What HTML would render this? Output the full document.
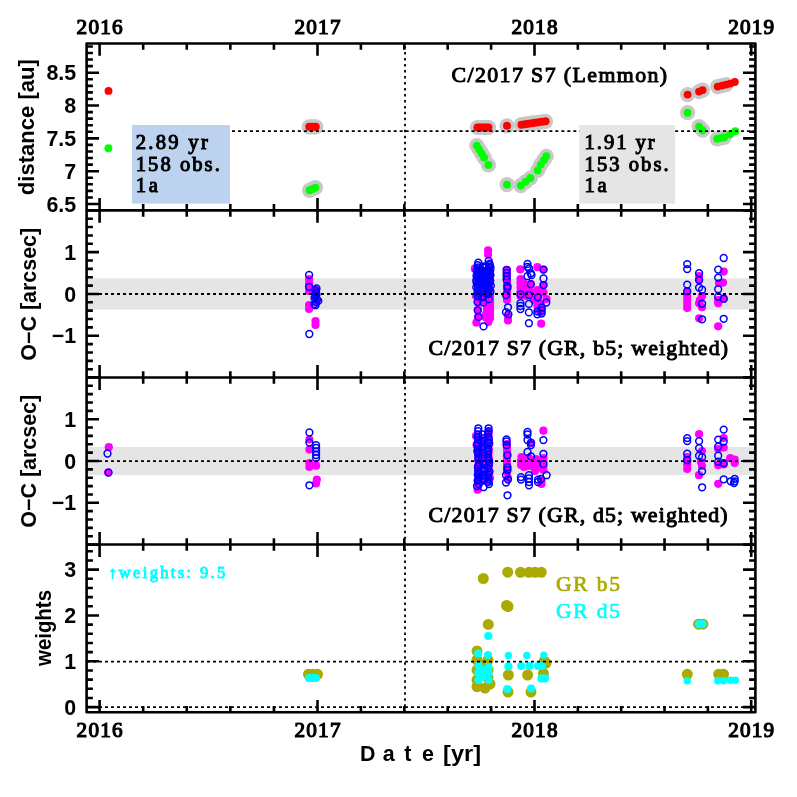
<!DOCTYPE html>
<html><head><meta charset="utf-8"><style>
html,body{margin:0;padding:0;background:#fff;}
svg{display:block;will-change:transform;}
text{paint-order:stroke;}
</style></head><body>
<svg width="797" height="797" viewBox="0 0 797 797">
<rect width="797" height="797" fill="#fff"/>
<rect x="86.6" y="278.3" width="668.8" height="31.3" fill="#e5e5e5"/>
<rect x="86.6" y="447.0" width="668.8" height="28.1" fill="#e5e5e5"/>
<g fill="#c8c8c8"><circle cx="309.2" cy="126.8" r="7.6"/><circle cx="311.4" cy="126.8" r="7.6"/><circle cx="313.6" cy="126.8" r="7.6"/><circle cx="315.8" cy="126.8" r="7.6"/><circle cx="477.4" cy="127.5" r="7.6"/><circle cx="479.6" cy="127.5" r="7.6"/><circle cx="481.8" cy="127.5" r="7.6"/><circle cx="484.1" cy="127.5" r="7.6"/><circle cx="486.3" cy="127.5" r="7.6"/><circle cx="488.5" cy="127.5" r="7.6"/><circle cx="507.0" cy="125.8" r="7.6"/><circle cx="521.4" cy="124.7" r="7.6"/><circle cx="524.9" cy="124.2" r="7.6"/><circle cx="528.3" cy="123.7" r="7.6"/><circle cx="531.8" cy="123.2" r="7.6"/><circle cx="535.2" cy="122.8" r="7.6"/><circle cx="538.7" cy="122.3" r="7.6"/><circle cx="542.1" cy="121.8" r="7.6"/><circle cx="545.6" cy="121.3" r="7.6"/><circle cx="687.6" cy="94.6" r="7.6"/><circle cx="699.1" cy="91.6" r="7.6"/><circle cx="702.6" cy="90.1" r="7.6"/><circle cx="717.7" cy="86.6" r="7.6"/><circle cx="722.0" cy="85.6" r="7.6"/><circle cx="726.2" cy="84.6" r="7.6"/><circle cx="309.5" cy="190.3" r="7.6"/><circle cx="312.5" cy="188.9" r="7.6"/><circle cx="315.5" cy="187.6" r="7.6"/><circle cx="476.8" cy="145.6" r="7.6"/><circle cx="479.2" cy="149.6" r="7.6"/><circle cx="481.7" cy="153.6" r="7.6"/><circle cx="484.1" cy="157.6" r="7.6"/><circle cx="488.4" cy="164.9" r="7.6"/><circle cx="507.0" cy="184.6" r="7.6"/><circle cx="520.8" cy="185.6" r="7.6"/><circle cx="525.6" cy="181.8" r="7.6"/><circle cx="530.4" cy="178.0" r="7.6"/><circle cx="537.7" cy="170.4" r="7.6"/><circle cx="540.8" cy="164.6" r="7.6"/><circle cx="543.9" cy="160.1" r="7.6"/><circle cx="546.3" cy="156.3" r="7.6"/><circle cx="687.6" cy="112.7" r="7.6"/><circle cx="699.1" cy="126.7" r="7.6"/><circle cx="702.6" cy="130.2" r="7.6"/><circle cx="717.2" cy="138.8" r="7.6"/><circle cx="720.7" cy="138.1" r="7.6"/><circle cx="724.2" cy="137.3" r="7.6"/></g>
<g fill="#ff0000"><circle cx="309.2" cy="126.8" r="3.95"/><circle cx="311.4" cy="126.8" r="3.95"/><circle cx="313.6" cy="126.8" r="3.95"/><circle cx="315.8" cy="126.8" r="3.95"/><circle cx="477.4" cy="127.5" r="3.95"/><circle cx="479.6" cy="127.5" r="3.95"/><circle cx="481.8" cy="127.5" r="3.95"/><circle cx="484.1" cy="127.5" r="3.95"/><circle cx="486.3" cy="127.5" r="3.95"/><circle cx="488.5" cy="127.5" r="3.95"/><circle cx="507.0" cy="125.8" r="3.95"/><circle cx="521.4" cy="124.7" r="3.95"/><circle cx="524.9" cy="124.2" r="3.95"/><circle cx="528.3" cy="123.7" r="3.95"/><circle cx="531.8" cy="123.2" r="3.95"/><circle cx="535.2" cy="122.8" r="3.95"/><circle cx="538.7" cy="122.3" r="3.95"/><circle cx="542.1" cy="121.8" r="3.95"/><circle cx="545.6" cy="121.3" r="3.95"/><circle cx="687.6" cy="94.6" r="3.95"/><circle cx="699.1" cy="91.6" r="3.95"/><circle cx="702.6" cy="90.1" r="3.95"/><circle cx="717.7" cy="86.6" r="3.95"/><circle cx="722.0" cy="85.6" r="3.95"/><circle cx="726.2" cy="84.6" r="3.95"/><circle cx="108.5" cy="90.9" r="3.95"/><circle cx="730.2" cy="83.6" r="3.95"/><circle cx="734.8" cy="82.0" r="3.95"/></g>
<g fill="#00ff00"><circle cx="309.5" cy="190.3" r="3.95"/><circle cx="312.5" cy="188.9" r="3.95"/><circle cx="315.5" cy="187.6" r="3.95"/><circle cx="476.8" cy="145.6" r="3.95"/><circle cx="479.2" cy="149.6" r="3.95"/><circle cx="481.7" cy="153.6" r="3.95"/><circle cx="484.1" cy="157.6" r="3.95"/><circle cx="488.4" cy="164.9" r="3.95"/><circle cx="507.0" cy="184.6" r="3.95"/><circle cx="520.8" cy="185.6" r="3.95"/><circle cx="525.6" cy="181.8" r="3.95"/><circle cx="530.4" cy="178.0" r="3.95"/><circle cx="537.7" cy="170.4" r="3.95"/><circle cx="540.8" cy="164.6" r="3.95"/><circle cx="543.9" cy="160.1" r="3.95"/><circle cx="546.3" cy="156.3" r="3.95"/><circle cx="687.6" cy="112.7" r="3.95"/><circle cx="699.1" cy="126.7" r="3.95"/><circle cx="702.6" cy="130.2" r="3.95"/><circle cx="717.2" cy="138.8" r="3.95"/><circle cx="720.7" cy="138.1" r="3.95"/><circle cx="724.2" cy="137.3" r="3.95"/><circle cx="108.4" cy="148.3" r="3.95"/><circle cx="730.2" cy="134.3" r="3.95"/><circle cx="735.3" cy="131.2" r="3.95"/></g>
<g fill="#ff00ff"><circle cx="309.1" cy="279.0" r="4.1"/><circle cx="309.1" cy="283.0" r="4.1"/><circle cx="309.1" cy="287.0" r="4.1"/><circle cx="309.1" cy="291.0" r="4.1"/><circle cx="316.0" cy="290.0" r="4.1"/><circle cx="316.0" cy="297.0" r="4.1"/><circle cx="316.5" cy="302.0" r="4.1"/><circle cx="309.1" cy="305.0" r="4.1"/><circle cx="309.1" cy="309.0" r="4.1"/><circle cx="315.5" cy="321.0" r="4.1"/><circle cx="315.5" cy="325.0" r="4.1"/><circle cx="490.0" cy="296.0" r="4.1"/><circle cx="490.0" cy="299.1" r="4.1"/><circle cx="490.0" cy="302.3" r="4.1"/><circle cx="490.0" cy="305.4" r="4.1"/><circle cx="490.0" cy="308.6" r="4.1"/><circle cx="490.0" cy="311.7" r="4.1"/><circle cx="490.0" cy="314.9" r="4.1"/><circle cx="490.0" cy="318.0" r="4.1"/><circle cx="487.0" cy="300.0" r="4.1"/><circle cx="487.0" cy="303.2" r="4.1"/><circle cx="487.0" cy="306.4" r="4.1"/><circle cx="487.0" cy="309.6" r="4.1"/><circle cx="487.0" cy="312.8" r="4.1"/><circle cx="487.0" cy="316.0" r="4.1"/><circle cx="478.3" cy="270.0" r="4.1"/><circle cx="478.3" cy="275.0" r="4.1"/><circle cx="478.3" cy="280.0" r="4.1"/><circle cx="478.3" cy="285.0" r="4.1"/><circle cx="478.3" cy="290.0" r="4.1"/><circle cx="478.3" cy="295.0" r="4.1"/><circle cx="478.3" cy="300.0" r="4.1"/><circle cx="488.7" cy="268.0" r="4.1"/><circle cx="488.7" cy="273.0" r="4.1"/><circle cx="488.7" cy="278.0" r="4.1"/><circle cx="488.7" cy="283.0" r="4.1"/><circle cx="488.7" cy="288.0" r="4.1"/><circle cx="488.7" cy="293.0" r="4.1"/><circle cx="488.7" cy="298.0" r="4.1"/><circle cx="488.1" cy="250.4" r="4.1"/><circle cx="488.1" cy="254.6" r="4.1"/><circle cx="474.8" cy="268.7" r="4.1"/><circle cx="489.5" cy="304.0" r="4.1"/><circle cx="489.5" cy="308.0" r="4.1"/><circle cx="489.5" cy="312.0" r="4.1"/><circle cx="486.0" cy="314.0" r="4.1"/><circle cx="485.0" cy="317.0" r="4.1"/><circle cx="476.4" cy="322.7" r="4.1"/><circle cx="488.3" cy="322.1" r="4.1"/><circle cx="478.0" cy="302.0" r="4.1"/><circle cx="478.0" cy="310.0" r="4.1"/><circle cx="478.0" cy="317.0" r="4.1"/><circle cx="484.0" cy="302.0" r="4.1"/><circle cx="476.0" cy="296.0" r="4.1"/><circle cx="484.0" cy="296.0" r="4.1"/><circle cx="507.0" cy="270.0" r="4.1"/><circle cx="507.0" cy="273.8" r="4.1"/><circle cx="507.0" cy="277.5" r="4.1"/><circle cx="507.0" cy="281.2" r="4.1"/><circle cx="507.0" cy="285.0" r="4.1"/><circle cx="507.0" cy="288.8" r="4.1"/><circle cx="507.0" cy="292.5" r="4.1"/><circle cx="507.0" cy="296.2" r="4.1"/><circle cx="507.0" cy="300.0" r="4.1"/><circle cx="508.0" cy="320.4" r="4.1"/><circle cx="508.0" cy="316.0" r="4.1"/><circle cx="520.3" cy="269.4" r="4.1"/><circle cx="520.5" cy="279.0" r="4.1"/><circle cx="520.5" cy="283.2" r="4.1"/><circle cx="520.5" cy="287.5" r="4.1"/><circle cx="520.5" cy="291.8" r="4.1"/><circle cx="520.5" cy="296.0" r="4.1"/><circle cx="523.0" cy="282.0" r="4.1"/><circle cx="523.0" cy="290.0" r="4.1"/><circle cx="530.8" cy="284.2" r="4.1"/><circle cx="528.9" cy="295.0" r="4.1"/><circle cx="526.0" cy="288.0" r="4.1"/><circle cx="531.0" cy="292.0" r="4.1"/><circle cx="526.0" cy="296.0" r="4.1"/><circle cx="533.0" cy="298.0" r="4.1"/><circle cx="537.4" cy="267.2" r="4.1"/><circle cx="537.5" cy="290.0" r="4.1"/><circle cx="537.5" cy="294.0" r="4.1"/><circle cx="537.5" cy="298.0" r="4.1"/><circle cx="537.5" cy="302.0" r="4.1"/><circle cx="537.5" cy="306.0" r="4.1"/><circle cx="538.0" cy="310.0" r="4.1"/><circle cx="541.2" cy="323.7" r="4.1"/><circle cx="534.0" cy="300.0" r="4.1"/><circle cx="543.5" cy="269.6" r="4.1"/><circle cx="543.5" cy="285.1" r="4.1"/><circle cx="543.5" cy="292.6" r="4.1"/><circle cx="546.5" cy="299.0" r="4.1"/><circle cx="541.6" cy="308.0" r="4.1"/><circle cx="541.6" cy="312.0" r="4.1"/><circle cx="541.0" cy="304.0" r="4.1"/><circle cx="687.2" cy="292.0" r="4.1"/><circle cx="687.2" cy="296.0" r="4.1"/><circle cx="687.2" cy="300.0" r="4.1"/><circle cx="687.2" cy="304.0" r="4.1"/><circle cx="687.2" cy="308.0" r="4.1"/><circle cx="699.1" cy="276.1" r="4.1"/><circle cx="699.1" cy="280.0" r="4.1"/><circle cx="702.0" cy="296.2" r="4.1"/><circle cx="699.1" cy="303.2" r="4.1"/><circle cx="702.0" cy="307.2" r="4.1"/><circle cx="699.1" cy="318.3" r="4.1"/><circle cx="700.0" cy="300.0" r="4.1"/><circle cx="723.7" cy="271.6" r="4.1"/><circle cx="723.0" cy="282.6" r="4.1"/><circle cx="719.0" cy="283.0" r="4.1"/><circle cx="723.7" cy="298.7" r="4.1"/><circle cx="718.2" cy="303.2" r="4.1"/><circle cx="718.2" cy="326.3" r="4.1"/><circle cx="718.2" cy="300.0" r="4.1"/><circle cx="108.8" cy="447.2" r="4.1"/><circle cx="108.2" cy="472.3" r="4.1"/><circle cx="309.4" cy="439.6" r="4.1"/><circle cx="309.4" cy="449.6" r="4.1"/><circle cx="309.4" cy="463.2" r="4.1"/><circle cx="309.4" cy="467.0" r="4.1"/><circle cx="316.1" cy="465.7" r="4.1"/><circle cx="316.8" cy="479.7" r="4.1"/><circle cx="316.0" cy="483.5" r="4.1"/><circle cx="476.0" cy="436.0" r="4.1"/><circle cx="476.5" cy="445.0" r="4.1"/><circle cx="477.6" cy="489.7" r="4.1"/><circle cx="490.0" cy="478.0" r="4.1"/><circle cx="488.6" cy="432.0" r="4.1"/><circle cx="488.6" cy="436.2" r="4.1"/><circle cx="488.6" cy="440.3" r="4.1"/><circle cx="488.6" cy="444.5" r="4.1"/><circle cx="488.6" cy="448.7" r="4.1"/><circle cx="488.6" cy="452.8" r="4.1"/><circle cx="488.6" cy="457.0" r="4.1"/><circle cx="488.6" cy="461.2" r="4.1"/><circle cx="488.6" cy="465.3" r="4.1"/><circle cx="488.6" cy="469.5" r="4.1"/><circle cx="488.6" cy="473.7" r="4.1"/><circle cx="488.6" cy="477.8" r="4.1"/><circle cx="488.6" cy="482.0" r="4.1"/><circle cx="478.3" cy="440.0" r="4.1"/><circle cx="478.3" cy="445.1" r="4.1"/><circle cx="478.3" cy="450.2" r="4.1"/><circle cx="478.3" cy="455.3" r="4.1"/><circle cx="478.3" cy="460.4" r="4.1"/><circle cx="478.3" cy="465.6" r="4.1"/><circle cx="478.3" cy="470.7" r="4.1"/><circle cx="478.3" cy="475.8" r="4.1"/><circle cx="478.3" cy="480.9" r="4.1"/><circle cx="478.3" cy="486.0" r="4.1"/><circle cx="483.5" cy="440.0" r="4.1"/><circle cx="483.5" cy="445.7" r="4.1"/><circle cx="483.5" cy="451.4" r="4.1"/><circle cx="483.5" cy="457.1" r="4.1"/><circle cx="483.5" cy="462.9" r="4.1"/><circle cx="483.5" cy="468.6" r="4.1"/><circle cx="483.5" cy="474.3" r="4.1"/><circle cx="483.5" cy="480.0" r="4.1"/><circle cx="507.0" cy="444.0" r="4.1"/><circle cx="507.0" cy="448.0" r="4.1"/><circle cx="507.0" cy="452.0" r="4.1"/><circle cx="507.0" cy="456.0" r="4.1"/><circle cx="507.0" cy="460.0" r="4.1"/><circle cx="507.0" cy="464.0" r="4.1"/><circle cx="507.0" cy="468.0" r="4.1"/><circle cx="507.0" cy="472.0" r="4.1"/><circle cx="508.0" cy="478.0" r="4.1"/><circle cx="521.5" cy="457.0" r="4.1"/><circle cx="521.0" cy="461.0" r="4.1"/><circle cx="521.0" cy="465.0" r="4.1"/><circle cx="524.0" cy="467.0" r="4.1"/><circle cx="527.0" cy="463.0" r="4.1"/><circle cx="531.0" cy="460.0" r="4.1"/><circle cx="533.0" cy="466.0" r="4.1"/><circle cx="531.1" cy="443.0" r="4.1"/><circle cx="529.0" cy="458.0" r="4.1"/><circle cx="536.0" cy="459.0" r="4.1"/><circle cx="529.0" cy="466.0" r="4.1"/><circle cx="537.0" cy="460.0" r="4.1"/><circle cx="537.0" cy="464.0" r="4.1"/><circle cx="537.0" cy="468.0" r="4.1"/><circle cx="540.0" cy="466.0" r="4.1"/><circle cx="535.0" cy="471.0" r="4.1"/><circle cx="543.4" cy="430.7" r="4.1"/><circle cx="543.4" cy="458.0" r="4.1"/><circle cx="543.4" cy="462.0" r="4.1"/><circle cx="543.4" cy="466.0" r="4.1"/><circle cx="543.4" cy="470.0" r="4.1"/><circle cx="541.5" cy="480.9" r="4.1"/><circle cx="541.5" cy="484.0" r="4.1"/><circle cx="687.2" cy="457.0" r="4.1"/><circle cx="687.2" cy="461.0" r="4.1"/><circle cx="687.2" cy="465.0" r="4.1"/><circle cx="687.2" cy="469.0" r="4.1"/><circle cx="699.1" cy="434.1" r="4.1"/><circle cx="702.0" cy="451.0" r="4.1"/><circle cx="701.0" cy="462.0" r="4.1"/><circle cx="702.0" cy="466.0" r="4.1"/><circle cx="699.0" cy="475.2" r="4.1"/><circle cx="723.7" cy="438.1" r="4.1"/><circle cx="723.7" cy="447.6" r="4.1"/><circle cx="718.2" cy="449.0" r="4.1"/><circle cx="718.2" cy="465.2" r="4.1"/><circle cx="723.7" cy="464.5" r="4.1"/><circle cx="718.2" cy="483.8" r="4.1"/><circle cx="730.2" cy="458.2" r="4.1"/><circle cx="734.7" cy="459.7" r="4.1"/><circle cx="734.7" cy="463.0" r="4.1"/></g>
<g fill="none" stroke="#0000ff" stroke-width="1.5"><circle cx="315.5" cy="290.5" r="3.4"/><circle cx="316.5" cy="294.5" r="3.4"/><circle cx="314.5" cy="298.0" r="3.4"/><circle cx="316.0" cy="302.0" r="3.4"/><circle cx="314.5" cy="304.0" r="3.4"/><circle cx="309.1" cy="274.9" r="3.4"/><circle cx="309.1" cy="286.8" r="3.4"/><circle cx="316.5" cy="288.5" r="3.4"/><circle cx="316.0" cy="292.5" r="3.4"/><circle cx="315.5" cy="296.5" r="3.4"/><circle cx="317.0" cy="299.5" r="3.4"/><circle cx="318.3" cy="300.9" r="3.4"/><circle cx="315.5" cy="305.2" r="3.4"/><circle cx="309.3" cy="334.0" r="3.4"/><circle cx="478.3" cy="262.7" r="3.4"/><circle cx="488.7" cy="261.0" r="3.4"/><circle cx="477.7" cy="265.2" r="3.4"/><circle cx="478.3" cy="267.3" r="3.4"/><circle cx="478.9" cy="270.6" r="3.4"/><circle cx="477.8" cy="272.4" r="3.4"/><circle cx="478.5" cy="274.7" r="3.4"/><circle cx="477.8" cy="277.8" r="3.4"/><circle cx="479.2" cy="280.0" r="3.4"/><circle cx="478.5" cy="282.2" r="3.4"/><circle cx="478.3" cy="284.4" r="3.4"/><circle cx="478.1" cy="287.7" r="3.4"/><circle cx="477.6" cy="291.7" r="3.4"/><circle cx="478.4" cy="293.3" r="3.4"/><circle cx="477.7" cy="295.3" r="3.4"/><circle cx="489.5" cy="263.6" r="3.4"/><circle cx="489.6" cy="265.1" r="3.4"/><circle cx="489.0" cy="267.0" r="3.4"/><circle cx="488.2" cy="270.9" r="3.4"/><circle cx="488.9" cy="272.9" r="3.4"/><circle cx="489.5" cy="275.4" r="3.4"/><circle cx="489.4" cy="276.8" r="3.4"/><circle cx="488.1" cy="279.1" r="3.4"/><circle cx="489.5" cy="281.6" r="3.4"/><circle cx="488.8" cy="284.8" r="3.4"/><circle cx="488.3" cy="287.7" r="3.4"/><circle cx="489.2" cy="289.7" r="3.4"/><circle cx="488.1" cy="292.3" r="3.4"/><circle cx="488.1" cy="294.1" r="3.4"/><circle cx="482.5" cy="266.7" r="3.4"/><circle cx="481.1" cy="269.6" r="3.4"/><circle cx="481.8" cy="271.3" r="3.4"/><circle cx="481.7" cy="273.4" r="3.4"/><circle cx="481.0" cy="275.7" r="3.4"/><circle cx="481.7" cy="279.4" r="3.4"/><circle cx="481.6" cy="281.7" r="3.4"/><circle cx="481.9" cy="285.9" r="3.4"/><circle cx="482.6" cy="288.3" r="3.4"/><circle cx="481.6" cy="291.7" r="3.4"/><circle cx="485.5" cy="266.5" r="3.4"/><circle cx="486.0" cy="267.5" r="3.4"/><circle cx="484.5" cy="271.3" r="3.4"/><circle cx="485.5" cy="273.1" r="3.4"/><circle cx="485.1" cy="276.5" r="3.4"/><circle cx="484.6" cy="279.6" r="3.4"/><circle cx="485.6" cy="283.0" r="3.4"/><circle cx="485.9" cy="284.6" r="3.4"/><circle cx="485.7" cy="287.9" r="3.4"/><circle cx="484.9" cy="290.7" r="3.4"/><circle cx="485.8" cy="293.7" r="3.4"/><circle cx="476.7" cy="270.7" r="3.4"/><circle cx="476.5" cy="275.7" r="3.4"/><circle cx="476.3" cy="280.3" r="3.4"/><circle cx="476.6" cy="282.6" r="3.4"/><circle cx="476.3" cy="287.3" r="3.4"/><circle cx="490.5" cy="267.5" r="3.4"/><circle cx="490.3" cy="270.3" r="3.4"/><circle cx="490.5" cy="275.2" r="3.4"/><circle cx="490.2" cy="280.7" r="3.4"/><circle cx="490.8" cy="285.8" r="3.4"/><circle cx="490.5" cy="291.8" r="3.4"/><circle cx="477.5" cy="302.1" r="3.4"/><circle cx="483.3" cy="302.6" r="3.4"/><circle cx="488.8" cy="299.0" r="3.4"/><circle cx="477.7" cy="310.3" r="3.4"/><circle cx="478.5" cy="316.9" r="3.4"/><circle cx="483.5" cy="326.4" r="3.4"/><circle cx="478.0" cy="296.3" r="3.4"/><circle cx="483.0" cy="297.0" r="3.4"/><circle cx="506.6" cy="269.8" r="3.4"/><circle cx="506.6" cy="273.0" r="3.4"/><circle cx="506.6" cy="276.3" r="3.4"/><circle cx="506.6" cy="279.6" r="3.4"/><circle cx="507.5" cy="286.1" r="3.4"/><circle cx="507.5" cy="288.1" r="3.4"/><circle cx="506.0" cy="295.1" r="3.4"/><circle cx="508.0" cy="307.3" r="3.4"/><circle cx="506.0" cy="312.2" r="3.4"/><circle cx="508.4" cy="314.2" r="3.4"/><circle cx="520.5" cy="294.3" r="3.4"/><circle cx="520.5" cy="303.2" r="3.4"/><circle cx="520.5" cy="306.0" r="3.4"/><circle cx="520.5" cy="309.0" r="3.4"/><circle cx="529.0" cy="268.5" r="3.4"/><circle cx="531.5" cy="275.0" r="3.4"/><circle cx="527.5" cy="263.9" r="3.4"/><circle cx="527.5" cy="266.8" r="3.4"/><circle cx="530.8" cy="273.3" r="3.4"/><circle cx="527.5" cy="276.2" r="3.4"/><circle cx="530.8" cy="284.2" r="3.4"/><circle cx="528.9" cy="295.0" r="3.4"/><circle cx="528.9" cy="303.9" r="3.4"/><circle cx="528.9" cy="312.4" r="3.4"/><circle cx="528.9" cy="323.2" r="3.4"/><circle cx="537.9" cy="297.3" r="3.4"/><circle cx="537.4" cy="311.4" r="3.4"/><circle cx="537.4" cy="314.3" r="3.4"/><circle cx="543.5" cy="269.6" r="3.4"/><circle cx="543.5" cy="278.5" r="3.4"/><circle cx="543.5" cy="285.1" r="3.4"/><circle cx="546.3" cy="302.5" r="3.4"/><circle cx="541.6" cy="307.7" r="3.4"/><circle cx="541.6" cy="310.5" r="3.4"/><circle cx="541.6" cy="313.5" r="3.4"/><circle cx="687.2" cy="264.1" r="3.4"/><circle cx="687.2" cy="269.1" r="3.4"/><circle cx="687.2" cy="284.6" r="3.4"/><circle cx="687.2" cy="291.2" r="3.4"/><circle cx="699.1" cy="273.1" r="3.4"/><circle cx="699.1" cy="280.1" r="3.4"/><circle cx="699.1" cy="287.6" r="3.4"/><circle cx="702.1" cy="289.7" r="3.4"/><circle cx="702.1" cy="303.7" r="3.4"/><circle cx="702.1" cy="319.3" r="3.4"/><circle cx="723.7" cy="258.0" r="3.4"/><circle cx="718.2" cy="269.6" r="3.4"/><circle cx="718.2" cy="277.6" r="3.4"/><circle cx="718.2" cy="289.2" r="3.4"/><circle cx="718.2" cy="296.7" r="3.4"/><circle cx="723.7" cy="298.7" r="3.4"/><circle cx="723.7" cy="318.8" r="3.4"/><circle cx="107.5" cy="453.5" r="3.4"/><circle cx="108.5" cy="472.6" r="3.4"/><circle cx="309.4" cy="432.5" r="3.4"/><circle cx="309.4" cy="442.6" r="3.4"/><circle cx="316.1" cy="445.1" r="3.4"/><circle cx="316.1" cy="448.0" r="3.4"/><circle cx="316.1" cy="451.5" r="3.4"/><circle cx="316.1" cy="455.0" r="3.4"/><circle cx="316.1" cy="458.1" r="3.4"/><circle cx="309.4" cy="485.3" r="3.4"/><circle cx="478.3" cy="428.3" r="3.4"/><circle cx="488.6" cy="428.3" r="3.4"/><circle cx="478.2" cy="431.1" r="3.4"/><circle cx="478.2" cy="434.5" r="3.4"/><circle cx="477.7" cy="437.3" r="3.4"/><circle cx="478.8" cy="439.6" r="3.4"/><circle cx="477.6" cy="442.7" r="3.4"/><circle cx="477.5" cy="445.9" r="3.4"/><circle cx="478.6" cy="449.0" r="3.4"/><circle cx="477.4" cy="450.8" r="3.4"/><circle cx="477.7" cy="452.2" r="3.4"/><circle cx="478.2" cy="454.0" r="3.4"/><circle cx="478.3" cy="457.6" r="3.4"/><circle cx="478.6" cy="459.9" r="3.4"/><circle cx="479.2" cy="462.7" r="3.4"/><circle cx="478.7" cy="465.2" r="3.4"/><circle cx="477.9" cy="467.0" r="3.4"/><circle cx="478.1" cy="471.1" r="3.4"/><circle cx="479.1" cy="473.4" r="3.4"/><circle cx="477.8" cy="475.1" r="3.4"/><circle cx="479.2" cy="477.0" r="3.4"/><circle cx="478.5" cy="479.1" r="3.4"/><circle cx="477.6" cy="480.7" r="3.4"/><circle cx="478.8" cy="484.0" r="3.4"/><circle cx="488.6" cy="431.2" r="3.4"/><circle cx="488.0" cy="433.4" r="3.4"/><circle cx="488.2" cy="436.7" r="3.4"/><circle cx="488.8" cy="439.4" r="3.4"/><circle cx="488.0" cy="442.1" r="3.4"/><circle cx="489.3" cy="443.6" r="3.4"/><circle cx="487.8" cy="447.6" r="3.4"/><circle cx="488.4" cy="450.1" r="3.4"/><circle cx="487.8" cy="451.7" r="3.4"/><circle cx="487.9" cy="454.4" r="3.4"/><circle cx="487.9" cy="457.3" r="3.4"/><circle cx="488.3" cy="459.4" r="3.4"/><circle cx="489.0" cy="460.6" r="3.4"/><circle cx="489.2" cy="462.9" r="3.4"/><circle cx="488.8" cy="465.4" r="3.4"/><circle cx="487.8" cy="468.1" r="3.4"/><circle cx="489.5" cy="471.6" r="3.4"/><circle cx="488.4" cy="473.9" r="3.4"/><circle cx="487.9" cy="476.4" r="3.4"/><circle cx="488.6" cy="479.4" r="3.4"/><circle cx="487.8" cy="482.0" r="3.4"/><circle cx="482.5" cy="434.3" r="3.4"/><circle cx="484.2" cy="438.1" r="3.4"/><circle cx="482.1" cy="441.3" r="3.4"/><circle cx="482.1" cy="446.5" r="3.4"/><circle cx="482.6" cy="449.5" r="3.4"/><circle cx="483.5" cy="453.9" r="3.4"/><circle cx="482.1" cy="458.5" r="3.4"/><circle cx="484.1" cy="463.4" r="3.4"/><circle cx="484.5" cy="468.2" r="3.4"/><circle cx="484.2" cy="470.9" r="3.4"/><circle cx="483.4" cy="475.6" r="3.4"/><circle cx="483.0" cy="479.0" r="3.4"/><circle cx="483.5" cy="487.2" r="3.4"/><circle cx="489.0" cy="484.0" r="3.4"/><circle cx="477.0" cy="486.0" r="3.4"/><circle cx="506.5" cy="439.5" r="3.4"/><circle cx="506.5" cy="441.5" r="3.4"/><circle cx="506.5" cy="445.0" r="3.4"/><circle cx="507.5" cy="455.2" r="3.4"/><circle cx="507.5" cy="467.1" r="3.4"/><circle cx="507.5" cy="470.0" r="3.4"/><circle cx="506.0" cy="475.2" r="3.4"/><circle cx="508.0" cy="479.6" r="3.4"/><circle cx="506.0" cy="482.5" r="3.4"/><circle cx="507.5" cy="495.3" r="3.4"/><circle cx="521.0" cy="477.1" r="3.4"/><circle cx="521.0" cy="479.6" r="3.4"/><circle cx="527.5" cy="432.0" r="3.4"/><circle cx="527.5" cy="434.5" r="3.4"/><circle cx="527.5" cy="440.0" r="3.4"/><circle cx="531.0" cy="442.6" r="3.4"/><circle cx="531.0" cy="445.0" r="3.4"/><circle cx="527.5" cy="452.0" r="3.4"/><circle cx="531.0" cy="456.4" r="3.4"/><circle cx="529.0" cy="475.2" r="3.4"/><circle cx="529.0" cy="478.5" r="3.4"/><circle cx="529.0" cy="482.0" r="3.4"/><circle cx="529.0" cy="485.3" r="3.4"/><circle cx="538.0" cy="479.6" r="3.4"/><circle cx="538.0" cy="482.0" r="3.4"/><circle cx="543.4" cy="440.1" r="3.4"/><circle cx="543.4" cy="453.9" r="3.4"/><circle cx="543.4" cy="464.0" r="3.4"/><circle cx="546.6" cy="475.2" r="3.4"/><circle cx="541.0" cy="479.0" r="3.4"/><circle cx="687.2" cy="438.1" r="3.4"/><circle cx="687.2" cy="441.1" r="3.4"/><circle cx="687.2" cy="453.7" r="3.4"/><circle cx="687.2" cy="460.2" r="3.4"/><circle cx="699.1" cy="441.1" r="3.4"/><circle cx="699.1" cy="448.1" r="3.4"/><circle cx="699.1" cy="455.7" r="3.4"/><circle cx="702.1" cy="457.2" r="3.4"/><circle cx="702.1" cy="471.2" r="3.4"/><circle cx="702.1" cy="487.3" r="3.4"/><circle cx="723.7" cy="429.6" r="3.4"/><circle cx="718.2" cy="439.6" r="3.4"/><circle cx="723.7" cy="441.6" r="3.4"/><circle cx="718.2" cy="446.6" r="3.4"/><circle cx="718.2" cy="455.7" r="3.4"/><circle cx="718.2" cy="461.7" r="3.4"/><circle cx="723.7" cy="463.2" r="3.4"/><circle cx="723.7" cy="479.3" r="3.4"/><circle cx="730.7" cy="481.3" r="3.4"/><circle cx="734.7" cy="478.8" r="3.4"/><circle cx="734.7" cy="481.3" r="3.4"/><circle cx="734.0" cy="483.0" r="3.4"/></g>
<g fill="#aaaa00"><circle cx="308.5" cy="674.3" r="5.5"/><circle cx="313.0" cy="674.3" r="5.5"/><circle cx="317.5" cy="674.3" r="5.5"/><circle cx="483.3" cy="578.5" r="5.5"/><circle cx="507.7" cy="572.2" r="5.5"/><circle cx="520.5" cy="572.3" r="5.5"/><circle cx="529.0" cy="572.3" r="5.5"/><circle cx="535.0" cy="572.3" r="5.5"/><circle cx="541.3" cy="572.3" r="5.5"/><circle cx="506.5" cy="605.5" r="5.5"/><circle cx="508.0" cy="606.5" r="5.5"/><circle cx="488.3" cy="624.4" r="5.5"/><circle cx="477.0" cy="651.0" r="5.5"/><circle cx="477.0" cy="660.0" r="5.5"/><circle cx="477.0" cy="670.0" r="5.5"/><circle cx="477.0" cy="680.0" r="5.5"/><circle cx="477.0" cy="686.7" r="5.5"/><circle cx="485.0" cy="688.0" r="5.5"/><circle cx="490.0" cy="684.0" r="5.5"/><circle cx="488.0" cy="660.0" r="5.5"/><circle cx="488.0" cy="670.0" r="5.5"/><circle cx="488.0" cy="678.0" r="5.5"/><circle cx="484.0" cy="665.0" r="5.5"/><circle cx="544.2" cy="661.1" r="5.5"/><circle cx="546.0" cy="663.0" r="5.5"/><circle cx="508.4" cy="675.0" r="5.5"/><circle cx="527.6" cy="675.0" r="5.5"/><circle cx="543.4" cy="673.5" r="5.5"/><circle cx="508.0" cy="692.0" r="5.5"/><circle cx="531.0" cy="692.0" r="5.5"/><circle cx="698.5" cy="624.2" r="5.5"/><circle cx="703.0" cy="624.2" r="5.5"/><circle cx="687.3" cy="674.3" r="5.5"/><circle cx="718.7" cy="674.3" r="5.5"/><circle cx="723.5" cy="674.3" r="5.5"/></g>
<g fill="#00ffff"><circle cx="309.0" cy="678.0" r="4.1"/><circle cx="312.5" cy="678.0" r="4.1"/><circle cx="316.0" cy="678.0" r="4.1"/><circle cx="488.3" cy="636.0" r="4.1"/><circle cx="478.2" cy="653.6" r="4.1"/><circle cx="488.0" cy="655.0" r="4.1"/><circle cx="478.5" cy="665.5" r="4.1"/><circle cx="488.5" cy="667.0" r="4.1"/><circle cx="478.5" cy="673.0" r="4.1"/><circle cx="488.5" cy="673.0" r="4.1"/><circle cx="478.5" cy="680.0" r="4.1"/><circle cx="488.5" cy="680.0" r="4.1"/><circle cx="483.0" cy="670.0" r="4.1"/><circle cx="483.0" cy="676.0" r="4.1"/><circle cx="508.4" cy="666.4" r="4.1"/><circle cx="521.2" cy="666.0" r="4.1"/><circle cx="529.5" cy="666.0" r="4.1"/><circle cx="538.1" cy="666.0" r="4.1"/><circle cx="541.9" cy="666.0" r="4.1"/><circle cx="541.5" cy="678.4" r="4.1"/><circle cx="545.0" cy="678.4" r="4.1"/><circle cx="507.3" cy="689.0" r="4.1"/><circle cx="531.0" cy="688.6" r="4.1"/><circle cx="699.0" cy="624.2" r="4.1"/><circle cx="702.5" cy="624.2" r="4.1"/><circle cx="508.4" cy="655.4" r="3.7"/><circle cx="526.8" cy="655.4" r="3.7"/><circle cx="543.8" cy="655.1" r="3.7"/><circle cx="687.3" cy="680.7" r="3.7"/><circle cx="717.7" cy="680.7" r="3.7"/><circle cx="723.5" cy="680.7" r="3.7"/><circle cx="730.5" cy="680.2" r="3.7"/><circle cx="735.3" cy="680.2" r="3.7"/></g>
<line x1="232.0" y1="131.1" x2="755.4" y2="131.1" stroke="#000" stroke-width="1.8" stroke-dasharray="3 2.988"/>
<line x1="87" y1="294.0" x2="755.4" y2="294.0" stroke="#000" stroke-width="1.8" stroke-dasharray="3 3"/>
<line x1="87" y1="461.2" x2="755.4" y2="461.2" stroke="#000" stroke-width="1.8" stroke-dasharray="3 3"/>
<line x1="87" y1="661.6" x2="755.4" y2="661.6" stroke="#000" stroke-width="1.8" stroke-dasharray="3 3"/>
<line x1="87" y1="707.1" x2="755.4" y2="707.1" stroke="#000" stroke-width="1.8" stroke-dasharray="3 3"/>
<line x1="405" y1="46.05" x2="405" y2="712.3" stroke="#000" stroke-width="1.8" stroke-dasharray="2.5 3.483"/>
<rect x="132" y="125" width="98" height="78.6" fill="#bdd2ee"/>
<rect x="579.3" y="125" width="95.8" height="78.6" fill="#e5e5e5"/>
<path d="M99.60 43.45V55.85M317.50 43.45V55.85M534.50 43.45V55.85M751.20 43.45V55.85M143.18 43.45V49.75M186.76 43.45V49.75M230.34 43.45V49.75M273.92 43.45V49.75M360.90 43.45V49.75M404.30 43.45V49.75M447.70 43.45V49.75M491.10 43.45V49.75M577.84 43.45V49.75M621.18 43.45V49.75M664.52 43.45V49.75M707.86 43.45V49.75M99.60 198.00V222.80M317.50 198.00V222.80M534.50 198.00V222.80M751.20 198.00V222.80M143.18 204.10V216.70M186.76 204.10V216.70M230.34 204.10V216.70M273.92 204.10V216.70M360.90 204.10V216.70M404.30 204.10V216.70M447.70 204.10V216.70M491.10 204.10V216.70M577.84 204.10V216.70M621.18 204.10V216.70M664.52 204.10V216.70M707.86 204.10V216.70M99.60 365.10V389.90M317.50 365.10V389.90M534.50 365.10V389.90M751.20 365.10V389.90M143.18 371.20V383.80M186.76 371.20V383.80M230.34 371.20V383.80M273.92 371.20V383.80M360.90 371.20V383.80M404.30 371.20V383.80M447.70 371.20V383.80M491.10 371.20V383.80M577.84 371.20V383.80M621.18 371.20V383.80M664.52 371.20V383.80M707.86 371.20V383.80M99.60 532.10V556.90M317.50 532.10V556.90M534.50 532.10V556.90M751.20 532.10V556.90M143.18 538.20V550.80M186.76 538.20V550.80M230.34 538.20V550.80M273.92 538.20V550.80M360.90 538.20V550.80M404.30 538.20V550.80M447.70 538.20V550.80M491.10 538.20V550.80M577.84 538.20V550.80M621.18 538.20V550.80M664.52 538.20V550.80M707.86 538.20V550.80M99.60 699.90V712.30M317.50 699.90V712.30M534.50 699.90V712.30M751.20 699.90V712.30M143.18 706.00V712.30M186.76 706.00V712.30M230.34 706.00V712.30M273.92 706.00V712.30M360.90 706.00V712.30M404.30 706.00V712.30M447.70 706.00V712.30M491.10 706.00V712.30M577.84 706.00V712.30M621.18 706.00V712.30M664.52 706.00V712.30M707.86 706.00V712.30M86.60 210.56H92.90M755.40 210.56H749.10M86.60 204.00H99.00M755.40 204.00H743.00M86.60 197.43H92.90M755.40 197.43H749.10M86.60 190.87H92.90M755.40 190.87H749.10M86.60 184.30H92.90M755.40 184.30H749.10M86.60 177.74H92.90M755.40 177.74H749.10M86.60 171.18H99.00M755.40 171.18H743.00M86.60 164.61H92.90M755.40 164.61H749.10M86.60 158.05H92.90M755.40 158.05H749.10M86.60 151.48H92.90M755.40 151.48H749.10M86.60 144.91H92.90M755.40 144.91H749.10M86.60 138.35H99.00M755.40 138.35H743.00M86.60 131.78H92.90M755.40 131.78H749.10M86.60 125.22H92.90M755.40 125.22H749.10M86.60 118.65H92.90M755.40 118.65H749.10M86.60 112.09H92.90M755.40 112.09H749.10M86.60 105.53H99.00M755.40 105.53H743.00M86.60 98.96H92.90M755.40 98.96H749.10M86.60 92.39H92.90M755.40 92.39H749.10M86.60 85.83H92.90M755.40 85.83H749.10M86.60 79.26H92.90M755.40 79.26H749.10M86.60 72.70H99.00M755.40 72.70H743.00M86.60 66.14H92.90M755.40 66.14H749.10M86.60 59.57H92.90M755.40 59.57H749.10M86.60 53.00H92.90M755.40 53.00H749.10M86.60 46.44H92.90M755.40 46.44H749.10M86.60 377.55H99.00M755.40 377.55H743.00M86.60 369.19H92.90M755.40 369.19H749.10M86.60 360.83H92.90M755.40 360.83H749.10M86.60 352.47H92.90M755.40 352.47H749.10M86.60 344.11H92.90M755.40 344.11H749.10M86.60 335.75H99.00M755.40 335.75H743.00M86.60 327.39H92.90M755.40 327.39H749.10M86.60 319.03H92.90M755.40 319.03H749.10M86.60 310.67H92.90M755.40 310.67H749.10M86.60 302.31H92.90M755.40 302.31H749.10M86.60 293.95H99.00M755.40 293.95H743.00M86.60 285.59H92.90M755.40 285.59H749.10M86.60 277.23H92.90M755.40 277.23H749.10M86.60 268.87H92.90M755.40 268.87H749.10M86.60 260.51H92.90M755.40 260.51H749.10M86.60 252.15H99.00M755.40 252.15H743.00M86.60 243.79H92.90M755.40 243.79H749.10M86.60 235.43H92.90M755.40 235.43H749.10M86.60 227.07H92.90M755.40 227.07H749.10M86.60 218.71H92.90M755.40 218.71H749.10M86.60 210.35H99.00M755.40 210.35H743.00M86.60 544.60H99.00M755.40 544.60H743.00M86.60 536.24H92.90M755.40 536.24H749.10M86.60 527.88H92.90M755.40 527.88H749.10M86.60 519.52H92.90M755.40 519.52H749.10M86.60 511.16H92.90M755.40 511.16H749.10M86.60 502.80H99.00M755.40 502.80H743.00M86.60 494.44H92.90M755.40 494.44H749.10M86.60 486.08H92.90M755.40 486.08H749.10M86.60 477.72H92.90M755.40 477.72H749.10M86.60 469.36H92.90M755.40 469.36H749.10M86.60 461.00H99.00M755.40 461.00H743.00M86.60 452.64H92.90M755.40 452.64H749.10M86.60 444.28H92.90M755.40 444.28H749.10M86.60 435.92H92.90M755.40 435.92H749.10M86.60 427.56H92.90M755.40 427.56H749.10M86.60 419.20H99.00M755.40 419.20H743.00M86.60 410.84H92.90M755.40 410.84H749.10M86.60 402.48H92.90M755.40 402.48H749.10M86.60 394.12H92.90M755.40 394.12H749.10M86.60 385.76H92.90M755.40 385.76H749.10M86.60 377.40H99.00M755.40 377.40H743.00M86.60 707.10H99.00M755.40 707.10H743.00M86.60 697.93H92.90M755.40 697.93H749.10M86.60 688.77H92.90M755.40 688.77H749.10M86.60 679.60H92.90M755.40 679.60H749.10M86.60 670.44H92.90M755.40 670.44H749.10M86.60 661.27H99.00M755.40 661.27H743.00M86.60 652.10H92.90M755.40 652.10H749.10M86.60 642.94H92.90M755.40 642.94H749.10M86.60 633.77H92.90M755.40 633.77H749.10M86.60 624.61H92.90M755.40 624.61H749.10M86.60 615.44H99.00M755.40 615.44H743.00M86.60 606.27H92.90M755.40 606.27H749.10M86.60 597.11H92.90M755.40 597.11H749.10M86.60 587.94H92.90M755.40 587.94H749.10M86.60 578.78H92.90M755.40 578.78H749.10M86.60 569.61H99.00M755.40 569.61H743.00M86.60 560.44H92.90M755.40 560.44H749.10M86.60 551.28H92.90M755.40 551.28H749.10" stroke="#000" stroke-width="2.6" fill="none"/>
<path d="M86.6 43.45H755.4V712.3H86.6ZM86.6 210.4H755.4M86.6 377.5H755.4M86.6 544.5H755.4" stroke="#000" stroke-width="2.6" fill="none" stroke-linejoin="round"/>
<text x="99.6" y="33.7" font-family="Liberation Serif, serif" stroke="#000" stroke-width="1.2" font-size="21.2" text-anchor="middle" textLength="46" lengthAdjust="spacing">2016</text>
<text x="99.6" y="736.5" font-family="Liberation Serif, serif" stroke="#000" stroke-width="1.2" font-size="21.2" text-anchor="middle" textLength="46" lengthAdjust="spacing">2016</text>
<text x="317.5" y="33.7" font-family="Liberation Serif, serif" stroke="#000" stroke-width="1.2" font-size="21.2" text-anchor="middle" textLength="46" lengthAdjust="spacing">2017</text>
<text x="317.5" y="736.5" font-family="Liberation Serif, serif" stroke="#000" stroke-width="1.2" font-size="21.2" text-anchor="middle" textLength="46" lengthAdjust="spacing">2017</text>
<text x="534.5" y="33.7" font-family="Liberation Serif, serif" stroke="#000" stroke-width="1.2" font-size="21.2" text-anchor="middle" textLength="46" lengthAdjust="spacing">2018</text>
<text x="534.5" y="736.5" font-family="Liberation Serif, serif" stroke="#000" stroke-width="1.2" font-size="21.2" text-anchor="middle" textLength="46" lengthAdjust="spacing">2018</text>
<text x="751.2" y="33.7" font-family="Liberation Serif, serif" stroke="#000" stroke-width="1.2" font-size="21.2" text-anchor="middle" textLength="46" lengthAdjust="spacing">2019</text>
<text x="751.2" y="736.5" font-family="Liberation Serif, serif" stroke="#000" stroke-width="1.2" font-size="21.2" text-anchor="middle" textLength="46" lengthAdjust="spacing">2019</text>
<text x="76.2" y="80.30" font-family="Liberation Sans, sans-serif" font-weight="bold" font-size="21.4" text-anchor="end">8.5</text>
<text x="76.2" y="113.12" font-family="Liberation Sans, sans-serif" font-weight="bold" font-size="21.4" text-anchor="end">8</text>
<text x="76.2" y="145.95" font-family="Liberation Sans, sans-serif" font-weight="bold" font-size="21.4" text-anchor="end">7.5</text>
<text x="76.2" y="178.78" font-family="Liberation Sans, sans-serif" font-weight="bold" font-size="21.4" text-anchor="end">7</text>
<text x="76.2" y="211.60" font-family="Liberation Sans, sans-serif" font-weight="bold" font-size="21.4" text-anchor="end">6.5</text>
<text x="76.2" y="259.75" font-family="Liberation Sans, sans-serif" font-weight="bold" font-size="21.4" text-anchor="end">1</text>
<text x="76.2" y="301.55" font-family="Liberation Sans, sans-serif" font-weight="bold" font-size="21.4" text-anchor="end">0</text>
<text x="76.2" y="343.35" font-family="Liberation Sans, sans-serif" font-weight="bold" font-size="21.4" text-anchor="end">−1</text>
<text x="76.2" y="426.80" font-family="Liberation Sans, sans-serif" font-weight="bold" font-size="21.4" text-anchor="end">1</text>
<text x="76.2" y="468.60" font-family="Liberation Sans, sans-serif" font-weight="bold" font-size="21.4" text-anchor="end">0</text>
<text x="76.2" y="510.40" font-family="Liberation Sans, sans-serif" font-weight="bold" font-size="21.4" text-anchor="end">−1</text>
<text x="76.2" y="577.21" font-family="Liberation Sans, sans-serif" font-weight="bold" font-size="21.4" text-anchor="end">3</text>
<text x="76.2" y="623.04" font-family="Liberation Sans, sans-serif" font-weight="bold" font-size="21.4" text-anchor="end">2</text>
<text x="76.2" y="668.87" font-family="Liberation Sans, sans-serif" font-weight="bold" font-size="21.4" text-anchor="end">1</text>
<text x="76.2" y="714.70" font-family="Liberation Sans, sans-serif" font-weight="bold" font-size="21.4" text-anchor="end">0</text>
<text transform="translate(33.8,127.2) rotate(-90)" font-family="Liberation Sans, sans-serif" font-weight="bold" font-size="21.4" text-anchor="middle" textLength="136" lengthAdjust="spacingAndGlyphs">distance [au]</text>
<text transform="translate(35.7,294.3) rotate(-90)" font-family="Liberation Sans, sans-serif" font-weight="bold" font-size="21.4" text-anchor="middle" textLength="133" lengthAdjust="spacingAndGlyphs">O−C [arcsec]</text>
<text transform="translate(35.7,461.3) rotate(-90)" font-family="Liberation Sans, sans-serif" font-weight="bold" font-size="21.4" text-anchor="middle" textLength="133" lengthAdjust="spacingAndGlyphs">O−C [arcsec]</text>
<text transform="translate(50.5,628) rotate(-90)" font-family="Liberation Sans, sans-serif" font-weight="bold" font-size="21.4" text-anchor="middle" textLength="76" lengthAdjust="spacingAndGlyphs">weights</text>
<text x="451.5" y="82.3" font-family="Liberation Serif, serif" stroke="#000" stroke-width="1.0" font-size="21.8" lengthAdjust="spacing" textLength="215.6">C/2017 S7 (Lemmon)</text>
<text x="428.6" y="354.6" font-family="Liberation Serif, serif" stroke="#000" stroke-width="1.0" font-size="21.8" lengthAdjust="spacing" textLength="299.4">C/2017 S7 (GR, b5; weighted)</text>
<text x="428.6" y="521.5" font-family="Liberation Serif, serif" stroke="#000" stroke-width="1.0" font-size="21.8" lengthAdjust="spacing" textLength="299">C/2017 S7 (GR, d5; weighted)</text>
<text x="135.8" y="149.3" font-family="Liberation Serif, serif" stroke="#000" stroke-width="1.0" font-size="20.6" textLength="72" lengthAdjust="spacing">2.89 yr</text>
<text x="135.8" y="171.2" font-family="Liberation Serif, serif" stroke="#000" stroke-width="1.0" font-size="20.6" textLength="84" lengthAdjust="spacing">158 obs.</text>
<text x="135.8" y="191.5" font-family="Liberation Serif, serif" stroke="#000" stroke-width="1.0" font-size="20.6" textLength="22" lengthAdjust="spacing">1a</text>
<text x="584.6" y="149.3" font-family="Liberation Serif, serif" stroke="#000" stroke-width="1.0" font-size="20.6" textLength="70" lengthAdjust="spacing">1.91 yr</text>
<text x="584.6" y="171.2" font-family="Liberation Serif, serif" stroke="#000" stroke-width="1.0" font-size="20.6" textLength="84" lengthAdjust="spacing">153 obs.</text>
<text x="584.6" y="191.5" font-family="Liberation Serif, serif" stroke="#000" stroke-width="1.0" font-size="20.6" textLength="22" lengthAdjust="spacing">1a</text>
<text x="108.2" y="578.4" font-family="Liberation Serif, serif" stroke="#00ffff" stroke-width="0.9" font-size="16.5" fill="#00ffff" textLength="117" lengthAdjust="spacing">↑weights: 9.5</text>
<text x="556" y="590.6" font-family="Liberation Serif, serif" stroke="#aaaa00" stroke-width="0.7" font-size="21.5" fill="#aaaa00" textLength="64" lengthAdjust="spacing">GR b5</text>
<text x="556" y="618.3" font-family="Liberation Serif, serif" stroke="#00ffff" stroke-width="0.7" font-size="21.5" fill="#00ffff" textLength="64" lengthAdjust="spacing">GR d5</text>
<text y="761.3" font-family="Liberation Sans, sans-serif" font-weight="bold" font-size="21.4"><tspan x="360">D</tspan><tspan x="382.8">a</tspan><tspan x="404.3">t</tspan><tspan x="422.1">e</tspan></text>
<text x="443.1" y="761.3" font-family="Liberation Sans, sans-serif" font-weight="bold" font-size="21.4" textLength="38" lengthAdjust="spacingAndGlyphs">[yr]</text>
</svg>
</body></html>
